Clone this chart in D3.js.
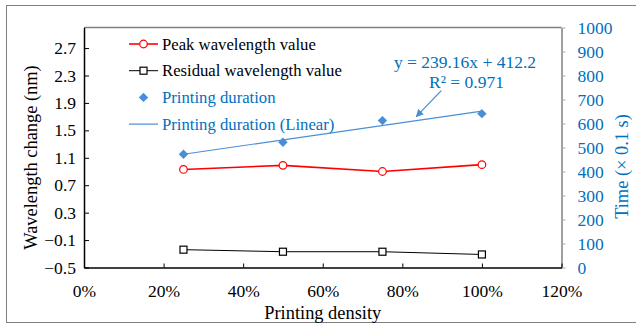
<!DOCTYPE html>
<html>
<head>
<meta charset="utf-8">
<script src="https://cdn.jsdelivr.net/npm/d3@7"></script>
<style>
  html, body { margin: 0; padding: 0; background: #fff; }
  svg text { font-family: "Liberation Serif", "Times New Roman", Times, serif; }
</style>
</head>
<body>
<div id="chart"></div>
<script>
const WIDTH = 636;
const HEIGHT = 326;
const TICK_FONT = 17.5;
const TITLE_FONT = 18.4;
const LEGEND_FONT = 16.7;
const NOTE_FONT = 17.5;
const FONT = "Liberation Serif, Times New Roman, serif";
const BLUE_TEXT = "#0070C0";
const BLUE_MARK = "#4A8FD6";

// data
const densities = [0.25, 0.5, 0.75, 1.0];
const peakWavelength = [0.93, 0.99, 0.9, 1.0];
const residualWavelength = [-0.24, -0.27, -0.27, -0.31];
const printingDuration = [472, 522, 612, 641];
const trendSlope = 239.16;
const trendIntercept = 412.2;
const leftTicks = [-0.5, -0.1, 0.3, 0.7, 1.1, 1.5, 1.9, 2.3, 2.7];
const rightTicks = [0, 100, 200, 300, 400, 500, 600, 700, 800, 900, 1000];
const xTicks = [0, 0.2, 0.4, 0.6, 0.8, 1.0, 1.2];
const legendLabels = [
  "Peak wavelength value",
  "Residual wavelength value",
  "Printing duration",
  "Printing duration (Linear)",
];

const plot = { left: 84, right: 561.5, top: 27.5, bottom: 267.5 };

const x = d3.scaleLinear().domain([0, 1.2]).range([plot.left, plot.right]);
const yLeft = d3.scaleLinear().domain([-0.5, 3.0]).range([plot.bottom, plot.top]);
const yRight = d3.scaleLinear().domain([0, 1000]).range([plot.bottom, plot.top]);

const svg = d3
  .select("#chart")
  .append("svg")
  .attr("width", WIDTH)
  .attr("height", HEIGHT)
  .attr("viewBox", [0, 0, WIDTH, HEIGHT])
  .attr("font-family", FONT)
  .attr("font-size", TICK_FONT);

// chart border
svg
  .append("rect")
  .attr("x", 6.5)
  .attr("y", 5.5)
  .attr("width", 640)
  .attr("height", 317)
  .attr("fill", "none")
  .attr("stroke", "#7f7f7f");

// top frame line of the plot
svg
  .append("line")
  .attr("x1", plot.left)
  .attr("x2", plot.right)
  .attr("y1", plot.top)
  .attr("y2", plot.top)
  .attr("stroke", "#7f7f7f")
  .attr("stroke-width", 1.5);

// axes
const leftAxis = svg
  .append("g")
  .attr("transform", `translate(${plot.left},0)`)
  .call(
    d3.axisLeft(yLeft)
      .tickValues(leftTicks)
      .tickFormat(d3.format(".1f"))
      .tickSizeInner(-5)
      .tickSizeOuter(0)
      .tickPadding(8)
  );

const rightAxis = svg
  .append("g")
  .attr("transform", `translate(${plot.right},0)`)
  .call(
    d3.axisRight(yRight)
      .tickValues(rightTicks)
      .tickFormat(d3.format("d"))
      .tickSizeInner(4)
      .tickSizeOuter(0)
      .tickPadding(12)
  );

const bottomAxis = svg
  .append("g")
  .attr("transform", `translate(0,${plot.bottom})`)
  .call(
    d3.axisBottom(x)
      .tickValues(xTicks)
      .tickFormat(d3.format(".0%"))
      .tickSizeInner(-4)
      .tickSizeOuter(0)
      .tickPadding(17)
  );

[leftAxis, rightAxis, bottomAxis].forEach((g) => {
  g.attr("font-family", FONT).attr("font-size", TICK_FONT);
});
leftAxis.select(".domain").attr("stroke", "#000").attr("stroke-width", 1.5);
leftAxis.selectAll(".tick line").attr("stroke", "#000");
leftAxis.selectAll(".tick text").attr("fill", "#000");
bottomAxis.select(".domain").attr("stroke", "#000").attr("stroke-width", 1.5);
bottomAxis.selectAll(".tick line").attr("stroke", "#000");
bottomAxis.selectAll(".tick text").attr("fill", "#000");
rightAxis.select(".domain").attr("stroke", "#7f7f7f").attr("stroke-width", 1.5);
rightAxis.selectAll(".tick line").attr("stroke", "#a6a6a6");
rightAxis.selectAll(".tick text").attr("fill", BLUE_TEXT);

// axis titles
svg
  .append("text")
  .attr("transform", "translate(37,157.5) rotate(-90)")
  .attr("text-anchor", "middle")
  .attr("font-size", TITLE_FONT)
  .attr("fill", "#000")
  .text("Wavelength change (nm)");

svg
  .append("text")
  .attr("transform", "translate(628,166.5) rotate(-90)")
  .attr("text-anchor", "middle")
  .attr("font-size", TITLE_FONT)
  .attr("fill", BLUE_TEXT)
  .text("Time (\u00d7 0.1 s)");

svg
  .append("text")
  .attr("x", (plot.left + plot.right) / 2)
  .attr("y", 318.5)
  .attr("text-anchor", "middle")
  .attr("font-size", TITLE_FONT)
  .attr("fill", "#000")
  .text("Printing density");

// trendline for printing duration
const trend = (d) => trendIntercept + trendSlope * d;
const trendX = d3.extent(densities);
svg
  .append("line")
  .attr("x1", x(trendX[0]))
  .attr("y1", yRight(trend(trendX[0])))
  .attr("x2", x(trendX[1]))
  .attr("y2", yRight(trend(trendX[1])))
  .attr("stroke", BLUE_MARK)
  .attr("stroke-width", 1.2);

const peakData = densities.map((d, i) => [d, peakWavelength[i]]);
const residualData = densities.map((d, i) => [d, residualWavelength[i]]);
const durationData = densities.map((d, i) => [d, printingDuration[i]]);

const lineLeft = d3.line().x((d) => x(d[0])).y((d) => yLeft(d[1]));

svg
  .append("path")
  .datum(peakData)
  .attr("d", lineLeft)
  .attr("fill", "none")
  .attr("stroke", "#FF0000")
  .attr("stroke-width", 1.6);

svg
  .selectAll(".peak")
  .data(peakData)
  .join("circle")
  .attr("class", "peak")
  .attr("cx", (d) => x(d[0]))
  .attr("cy", (d) => yLeft(d[1]))
  .attr("r", 3.8)
  .attr("fill", "#fff")
  .attr("stroke", "#FF0000")
  .attr("stroke-width", 1.2);

svg
  .append("path")
  .datum(residualData)
  .attr("d", lineLeft)
  .attr("fill", "none")
  .attr("stroke", "#000")
  .attr("stroke-width", 1);

svg
  .selectAll(".residual")
  .data(residualData)
  .join("rect")
  .attr("class", "residual")
  .attr("x", (d) => x(d[0]) - 3.5)
  .attr("y", (d) => yLeft(d[1]) - 3.5)
  .attr("width", 7)
  .attr("height", 7)
  .attr("fill", "#fff")
  .attr("stroke", "#000")
  .attr("stroke-width", 1.2);

const diamond = d3.symbol().type(d3.symbolSquare).size(44);
svg
  .selectAll(".duration")
  .data(durationData)
  .join("path")
  .attr("class", "duration")
  .attr("d", diamond)
  .attr("transform", (d) => `translate(${x(d[0])},${yRight(d[1])}) rotate(45)`)
  .attr("fill", BLUE_MARK);

// trendline equation and arrow
svg
  .append("text")
  .attr("x", 465)
  .attr("y", 67.5)
  .attr("text-anchor", "middle")
  .attr("font-size", NOTE_FONT)
  .attr("fill", BLUE_TEXT)
  .text(`y = ${trendSlope}x + ${trendIntercept}`);
svg
  .append("text")
  .attr("x", 466.5)
  .attr("y", 87.5)
  .attr("text-anchor", "middle")
  .attr("font-size", NOTE_FONT)
  .attr("fill", BLUE_TEXT)
  .text("R\u00b2 = 0.971");

svg
  .append("defs")
  .append("marker")
  .attr("id", "arrow")
  .attr("viewBox", "0 0 10 10")
  .attr("refX", 9)
  .attr("refY", 5)
  .attr("markerWidth", 6)
  .attr("markerHeight", 6)
  .attr("orient", "auto")
  .append("path")
  .attr("d", "M0,0L10,5L0,10z")
  .attr("fill", BLUE_MARK);

const tipD = 0.835;
const tipX = x(tipD);
const tipY = yRight(trend(tipD)) - 4;
svg
  .append("line")
  .attr("x1", tipX + 25)
  .attr("y1", tipY - 26)
  .attr("x2", tipX)
  .attr("y2", tipY)
  .attr("stroke", BLUE_MARK)
  .attr("stroke-width", 1.3)
  .attr("marker-end", "url(#arrow)");

// legend
const legend = svg.append("g").attr("transform", "translate(129,44)");
const rowGap = 26.7;
const rows = legend
  .selectAll("g")
  .data(legendLabels)
  .join("g")
  .attr("transform", (d, i) => `translate(0,${i * rowGap})`);

rows
  .append("text")
  .attr("x", 33)
  .attr("y", 5.5)
  .attr("font-size", LEGEND_FONT)
  .attr("fill", (d, i) => (i < 2 ? "#000" : BLUE_TEXT))
  .text((d) => d);

rows.filter((d, i) => i === 0).call((g) => {
  g.append("line").attr("x1", 0).attr("x2", 29).attr("stroke", "#FF0000").attr("stroke-width", 1.6);
  g.append("circle").attr("cx", 14.5).attr("r", 3.8).attr("fill", "#fff").attr("stroke", "#FF0000").attr("stroke-width", 1.2);
});
rows.filter((d, i) => i === 1).call((g) => {
  g.append("line").attr("x1", 0).attr("x2", 29).attr("stroke", "#000").attr("stroke-width", 1);
  g.append("rect").attr("x", 11).attr("y", -3.5).attr("width", 7).attr("height", 7).attr("fill", "#fff").attr("stroke", "#000").attr("stroke-width", 1.2);
});
rows.filter((d, i) => i === 2).call((g) => {
  g.append("path").attr("d", diamond).attr("transform", "translate(14.5,0) rotate(45)").attr("fill", BLUE_MARK);
});
rows.filter((d, i) => i === 3).call((g) => {
  g.append("line").attr("x1", 0).attr("x2", 29).attr("stroke", BLUE_MARK).attr("stroke-width", 1.2);
});
</script>
</body>
</html>
